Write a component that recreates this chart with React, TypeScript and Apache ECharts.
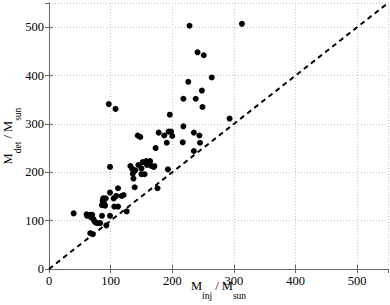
import React, { useEffect, useRef } from "react";
import * as echarts from "echarts";

// Injected mass (M_inj / M_sun)
const mInj = [
  40, 61, 62, 67, 70, 68, 72, 74, 76, 79, 83, 86, 99, 93, 67, 71,
  86, 91, 89, 87, 88, 92, 99, 105, 109, 112, 118, 106, 112, 121, 126, 99,
  97, 108, 132, 135, 136, 137, 140, 139, 145, 152, 158, 162, 159, 150,
  166, 171, 150, 155, 164, 170, 176, 193, 144, 148, 173, 178, 187, 194,
  198, 200, 191, 196, 217, 218, 235, 244, 245, 235, 218, 238, 226, 248,
  249, 264, 228, 241, 251, 293, 313,
];
// Detected mass (M_det / M_sun)
const mDet = [
  115, 113, 110, 112, 112, 107, 103, 98, 96, 95, 95, 110, 110, 90, 74, 72,
  132, 131, 136, 141, 146, 146, 158, 146, 151, 167, 151, 129, 129, 153, 119, 211,
  341, 331, 213, 207, 197, 187, 204, 169, 215, 221, 223, 221, 215, 208,
  213, 213, 196, 196, 223, 211, 167, 206, 276, 273, 250, 282, 276, 284,
  284, 275, 261, 319, 262, 295, 282, 276, 261, 244, 352, 352, 387, 369,
  335, 396, 503, 448, 442, 311, 507,
];
// y = x reference line end points
const diagonal = [0, 550];

const serif = "Liberation Serif, Times New Roman, serif";

export default function App() {
  const ref = useRef<HTMLDivElement>(null);
  useEffect(() => {
    if (!ref.current) return;
    const chart = echarts.init(ref.current, null, { renderer: "svg" });
    const axisColor = "#666";
    const rich = {
      m: { fontSize: 12.5, lineHeight: 22, verticalAlign: "top", fontFamily: serif, color: "#000" },
      s: { fontSize: 9.5, lineHeight: 22, verticalAlign: "bottom", fontFamily: serif, color: "#000" },
    };
    const common = {
      type: "value",
      min: 0,
      max: 550,
      interval: 100,
      axisLine: { show: true, lineStyle: { color: axisColor, width: 1 } },
      axisTick: { show: true, inside: true, length: 4, lineStyle: { color: axisColor } },
      splitLine: { show: true, lineStyle: { color: "#c4c4c4", type: [1, 2], width: 1 } },
      axisLabel: {
        fontFamily: serif,
        fontSize: 12.5,
        color: "#000",
        showMaxLabel: false,
        margin: 5,
      },
    };
    const points = mInj.map((x, i) => [x, mDet[i]]);
    chart.setOption({
      animation: false,
      textStyle: { fontFamily: serif },
      grid: { left: 49, right: 2, top: 3, bottom: 36, containLabel: false, outerBoundsMode: "none" },
      xAxis: [
        {
          ...common,
          position: "bottom",
          name: "{m|M}{s|inj}{m| / M}{s|sun}",
          nameLocation: "middle",
          nameGap: 10,
          nameMoveOverlap: false,
          nameTextStyle: { rich, fontFamily: serif },
        },
        {
          ...common,
          position: "top",
          axisLabel: { show: false },
          splitLine: { show: false },
        },
      ],
      yAxis: [
        {
          ...common,
          position: "left",
          name: "{m|M}{s|det}{m| / M}{s|sun}",
          nameLocation: "middle",
          nameGap: 26,
          nameMoveOverlap: false,
          nameTextStyle: { rich, fontFamily: serif },
        },
        {
          ...common,
          position: "right",
          axisLabel: { show: false },
          splitLine: { show: false },
        },
      ],
      series: [
        {
          type: "line",
          data: diagonal.map((v) => [v, v]),
          symbol: "none",
          lineStyle: { color: "#000", width: 2, type: [5, 4] },
          z: 2,
        },
        {
          type: "scatter",
          data: points,
          symbol: "circle",
          symbolSize: 6,
          itemStyle: { color: "#000", opacity: 1 },
          z: 3,
        },
      ],
    });
    return () => chart.dispose();
  }, []);
  return (
    <div
      ref={ref}
      style={{ position: "fixed", left: 0, top: 0, width: 390, height: 305, background: "#fff" }}
    />
  );
}
